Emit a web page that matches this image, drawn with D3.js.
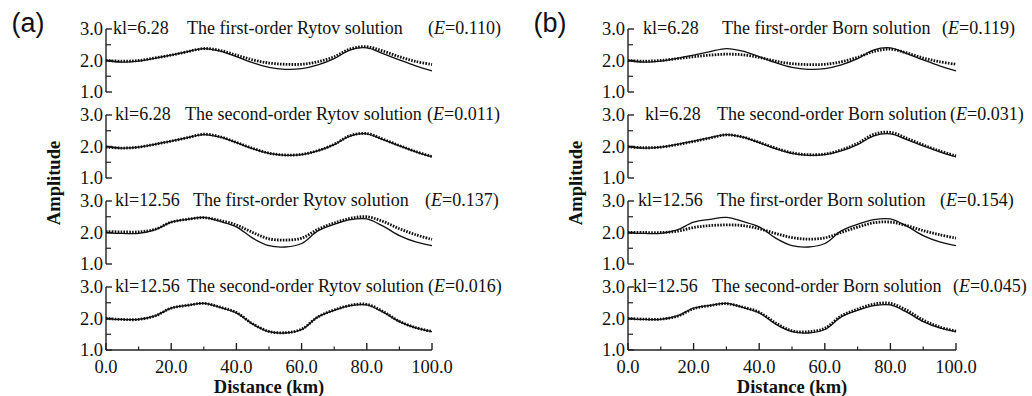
<!doctype html>
<html>
<head>
  <meta charset="utf-8">
  <title>Rytov and Born solutions</title>
  <style>
    body { margin: 0; background: #fff; }
    svg { display: block; }
    text { font-family: "Liberation Serif", "Times New Roman", serif; fill: #111; }
  </style>
</head>
<body>
  <div id="chart"></div>
  <script src="https://d3js.org/d3.v7.min.js"></script>
  <script>
    // distance samples (km)
    const distance = [0, 5, 10, 15, 20, 25, 30, 35, 40, 45, 50, 55, 60, 65, 70, 75, 80, 85, 90, 95, 100];

    // exact amplitude (solid lines)
    const exact628 = [2.00, 1.95, 1.98, 2.07, 2.17, 2.28, 2.38, 2.30, 2.12, 1.93, 1.78, 1.72, 1.74, 1.86, 2.06, 2.34, 2.40, 2.22, 2.02, 1.83, 1.67];
    const exact1256 = [1.99, 1.97, 1.97, 2.08, 2.33, 2.42, 2.48, 2.35, 2.18, 1.82, 1.58, 1.54, 1.65, 2.05, 2.26, 2.41, 2.43, 2.20, 1.90, 1.70, 1.58];

    // approximate solutions (dotted lines)
    const rytov1_628 = [2.00, 1.98, 2.00, 2.08, 2.17, 2.28, 2.38, 2.32, 2.17, 2.02, 1.92, 1.88, 1.88, 1.96, 2.12, 2.37, 2.44, 2.30, 2.12, 1.97, 1.87];
    const rytov2_628 = [1.98, 1.95, 1.98, 2.07, 2.17, 2.28, 2.39, 2.31, 2.13, 1.94, 1.79, 1.73, 1.75, 1.87, 2.07, 2.35, 2.41, 2.23, 2.03, 1.84, 1.68];
    const rytov1_1256 = [2.03, 2.02, 2.02, 2.10, 2.33, 2.42, 2.47, 2.38, 2.24, 2.00, 1.80, 1.76, 1.82, 2.10, 2.30, 2.45, 2.50, 2.35, 2.12, 1.93, 1.78];
    const rytov2_1256 = [2.00, 1.97, 1.97, 2.08, 2.33, 2.42, 2.48, 2.36, 2.19, 1.83, 1.59, 1.55, 1.66, 2.05, 2.27, 2.42, 2.45, 2.22, 1.91, 1.71, 1.59];
    const born1_628 = [2.00, 1.98, 2.00, 2.06, 2.12, 2.17, 2.20, 2.18, 2.10, 1.98, 1.90, 1.87, 1.88, 1.96, 2.10, 2.29, 2.36, 2.24, 2.08, 1.96, 1.88];
    const born2_628 = [1.99, 1.96, 1.98, 2.06, 2.16, 2.27, 2.37, 2.30, 2.13, 1.95, 1.80, 1.74, 1.76, 1.89, 2.10, 2.39, 2.45, 2.26, 2.05, 1.86, 1.70];
    const born1_1256 = [2.00, 2.00, 2.00, 2.04, 2.16, 2.22, 2.24, 2.22, 2.12, 1.97, 1.84, 1.79, 1.83, 2.00, 2.17, 2.31, 2.33, 2.22, 2.06, 1.93, 1.82];
    const born2_1256 = [2.00, 1.98, 1.98, 2.07, 2.31, 2.41, 2.47, 2.36, 2.20, 1.86, 1.61, 1.58, 1.69, 2.08, 2.30, 2.46, 2.48, 2.26, 1.95, 1.73, 1.60];

    // labels
    const panelLabels = ['(a)', '(b)'];
    const klLabels = ['kl=6.28', 'kl=6.28', 'kl=12.56', 'kl=12.56'];
    const rytovTitles = ['The first-order Rytov solution', 'The second-order Rytov solution',
      'The first-order Rytov solution', 'The second-order Rytov solution'];
    const bornTitles = ['The first-order Born solution', 'The second-order Born solution',
      'The first-order Born solution', 'The second-order Born solution'];
    const rytovErrors = ['0.110', '0.011', '0.137', '0.016'];
    const bornErrors = ['0.119', '0.031', '0.154', '0.045'];
    const yMajor = [1, 2, 3];
    const yMinor = [1.5, 2.5];
    const xMajor = [0, 20, 40, 60, 80, 100];
    const xMinor = [10, 30, 50, 70, 90];

    const panels = [
      {
        label: panelLabels[0], x0: 106, x1: 432, labelX: 28, ampX: 60,
        titles: rytovTitles, errors: rytovErrors,
        exact: [exact628, exact628, exact1256, exact1256],
        approx: [rytov1_628, rytov2_628, rytov1_1256, rytov2_1256],
        klDx: [7, 9, 9, 9], titleDx: [81, 79, 87, 81], errDx: [322, 321, 319, 322]
      },
      {
        label: panelLabels[1], x0: 628, x1: 956, labelX: 550, ampX: 582,
        titles: bornTitles, errors: bornErrors,
        exact: [exact628, exact628, exact1256, exact1256],
        approx: [born1_628, born2_628, born1_1256, born2_1256],
        klDx: [15, 17, 10, 5], titleDx: [94, 89, 89, 84], errDx: [314, 322, 312, 325]
      }
    ];

    const tops = [29, 115, 201, 287];
    const plotH = 63;

    const svg = d3.select('#chart').append('svg')
      .attr('width', 1032)
      .attr('height', 396);

    svg.append('rect').attr('width', 1032).attr('height', 396).attr('fill', '#fff');

    panels.forEach(p => {
      const x = d3.scaleLinear().domain([0, 100]).range([p.x0, p.x1]);

      svg.append('text')
        .attr('x', p.labelX).attr('y', 32)
        .attr('text-anchor', 'middle')
        .style('font-family', '"Liberation Sans", Arial, sans-serif')
        .style('font-size', '27px')
        .text(p.label);

      svg.append('text')
        .attr('transform', `translate(${p.ampX},183) rotate(-90)`)
        .attr('text-anchor', 'middle')
        .style('font-size', '18.5px')
        .style('font-weight', 'bold')
        .text('Amplitude');

      tops.forEach((top, i) => {
        const y = d3.scaleLinear().domain([1, 3]).range([top + plotH, top]);
        const g = svg.append('g');

        // y axis line + inward ticks
        g.append('line')
          .attr('x1', p.x0).attr('x2', p.x0)
          .attr('y1', y(3)).attr('y2', y(1))
          .attr('stroke', '#222').attr('stroke-width', 1.4);
        g.selectAll('.ymaj').data(yMajor).join('line')
          .attr('x1', p.x0).attr('x2', p.x0 + 6)
          .attr('y1', d => y(d)).attr('y2', d => y(d))
          .attr('stroke', '#222').attr('stroke-width', 1.4);
        g.selectAll('.ymin').data(yMinor).join('line')
          .attr('x1', p.x0).attr('x2', p.x0 + 5)
          .attr('y1', d => y(d)).attr('y2', d => y(d))
          .attr('stroke', '#222').attr('stroke-width', 1.2);
        g.selectAll('.ylab').data(yMajor).join('text')
          .attr('x', p.x0 - 3)
          .attr('y', d => y(d) + 6)
          .attr('text-anchor', 'end')
          .style('font-size', '18.5px')
          .text(d => d.toFixed(1));

        // title
        const ty = top + 5;
        g.append('text')
          .attr('x', p.x0 + p.klDx[i]).attr('y', ty)
          .style('font-size', '18px')
          .text(klLabels[i]);
        g.append('text')
          .attr('x', p.x0 + p.titleDx[i]).attr('y', ty)
          .style('font-size', '18px')
          .text(p.titles[i]);
        const et = g.append('text')
          .attr('x', p.x0 + p.errDx[i]).attr('y', ty)
          .style('font-size', '18px');
        et.append('tspan').text('(');
        et.append('tspan').style('font-style', 'italic').text('E');
        et.append('tspan').text('=' + p.errors[i] + ')');

        const line = d3.line()
          .x((d, k) => x(distance[k]))
          .y(d => y(d))
          .curve(d3.curveCatmullRom.alpha(0.5));

        g.append('path')
          .attr('d', line(p.exact[i]))
          .attr('fill', 'none')
          .attr('stroke', '#111')
          .attr('stroke-width', 1.3);

        g.append('path')
          .attr('d', line(p.approx[i]))
          .attr('fill', 'none')
          .attr('stroke', '#111')
          .attr('stroke-width', 2.8)
          .attr('stroke-dasharray', '1.6 1.3');

        // bottom x axis only on last row
        if (i === tops.length - 1) {
          const by = y(1);
          g.append('line')
            .attr('x1', p.x0).attr('x2', p.x1)
            .attr('y1', by).attr('y2', by)
            .attr('stroke', '#222').attr('stroke-width', 1.4);
          g.selectAll('.xmaj').data(xMajor).join('line')
            .attr('x1', d => x(d)).attr('x2', d => x(d))
            .attr('y1', by).attr('y2', by - 7)
            .attr('stroke', '#222').attr('stroke-width', 1.4);
          g.selectAll('.xmin').data(xMinor).join('line')
            .attr('x1', d => x(d)).attr('x2', d => x(d))
            .attr('y1', by).attr('y2', by - 3.5)
            .attr('stroke', '#222').attr('stroke-width', 1.2);
          g.selectAll('.xlab').data(xMajor).join('text')
            .attr('x', d => x(d))
            .attr('y', by + 23)
            .attr('text-anchor', 'middle')
            .style('font-size', '18.5px')
            .text(d => d.toFixed(1));
          g.append('text')
            .attr('x', (p.x0 + p.x1) / 2)
            .attr('y', by + 43)
            .attr('text-anchor', 'middle')
            .style('font-size', '18.5px')
            .style('font-weight', 'bold')
            .text('Distance (km)');
        }
      });
    });
  </script>
</body>
</html>
